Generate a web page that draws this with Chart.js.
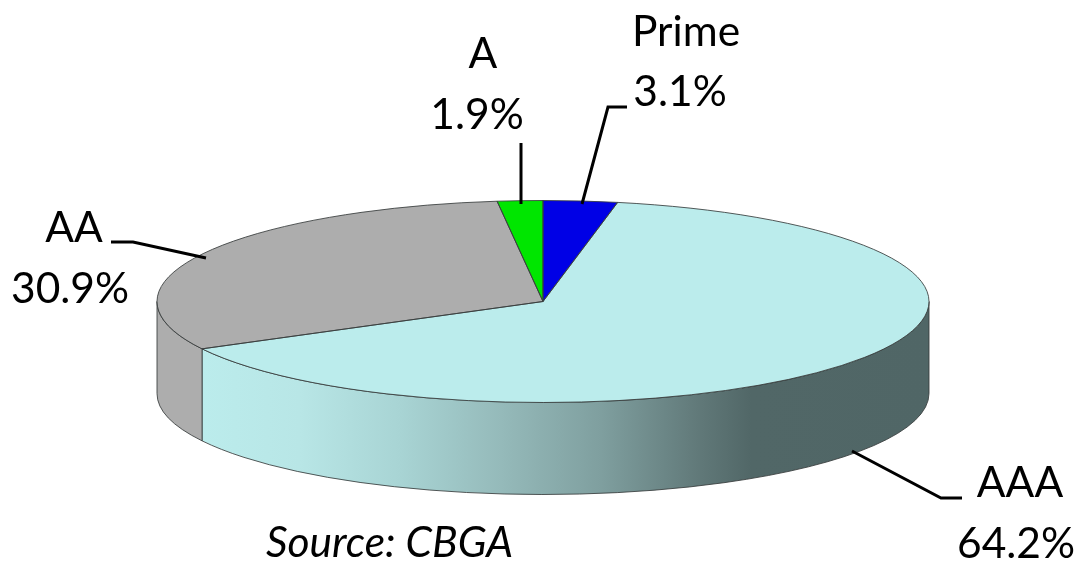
<!DOCTYPE html>
<html>
<head>
<meta charset="utf-8">
<style>
html, body { margin: 0; padding: 0; background: #fff; overflow: hidden; }
canvas { display: block; }
</style>
<script src="https://cdn.jsdelivr.net/npm/chart.js@4/dist/chart.umd.js"></script>
</head>
<body>
<canvas id="pie-host" width="1081" height="562"></canvas>
<script>
// Slices run clockwise from 12 o'clock
var categories = ['Prime', 'AAA', 'AA', 'A'];
var shares = [3.1, 64.2, 30.9, 1.9];
var sourceNote = 'Source: CBGA';

var sliceColors = ['#0000e6', '#bbecec', '#adadad', '#00e600'];

// The flattened disc
var disc = { x: 543, y: 301.5, rx: 386, ry: 101, depth: 92 };
var outline = 'rgba(55, 60, 60, 0.85)';
var textFont = '42.5px Lato';

// Label placement, same order as categories
var labelSpots = [
    { x: 686, nameY: 46, shareX: 680, shareY: 106 },
    { x: 1020, nameY: 497, shareX: 1016, shareY: 558 },
    { x: 74, nameY: 242, shareX: 70, shareY: 303 },
    { x: 483, nameY: 68, shareX: 477, shareY: 129 }
];
var leaders = [
    [[582, 204], [608, 107], [627, 107]],
    [[852, 451], [941, 498], [962, 498]],
    [[206, 258], [133, 242], [111, 242]],
    [[521, 204], [521, 143]]
];

function wallFill(ctx, index) {
    var g = ctx.createLinearGradient(disc.x - disc.rx, 0, disc.x + disc.rx, 0);
    if (index === 1) {
        g.addColorStop(0.06, '#bbecec');
        g.addColorStop(0.185, '#b8e6e6');
        g.addColorStop(0.315, '#a8d4d4');
        g.addColorStop(0.445, '#95baba');
        g.addColorStop(0.575, '#7f9f9f');
        g.addColorStop(0.705, '#607878');
        g.addColorStop(0.77, '#516767');
        g.addColorStop(1, '#506666');
    } else {
        g.addColorStop(0, sliceColors[index]);
        g.addColorStop(1, sliceColors[index]);
    }
    return g;
}

var discPlugin = {
    id: 'disc',
    beforeDatasetsDraw: function (chart) {
        var ctx = chart.ctx;
        var arcs = chart.getDatasetMeta(0).data;

        // side wall, only the front half of the disc shows it
        arcs.forEach(function (arc, i) {
            var from = Math.max(arc.startAngle, 0);
            var to = Math.min(arc.endAngle, Math.PI);
            if (to <= from) return;
            ctx.save();
            ctx.beginPath();
            ctx.ellipse(disc.x, disc.y, disc.rx, disc.ry, 0, from, to);
            ctx.ellipse(disc.x, disc.y + disc.depth, disc.rx, disc.ry, 0, to, from, true);
            ctx.closePath();
            ctx.fillStyle = wallFill(ctx, i);
            ctx.fill();
            ctx.strokeStyle = outline;
            ctx.lineWidth = 1;
            ctx.stroke();
            ctx.restore();
        });

        // squash the round pie into the top of the disc
        var first = arcs[0];
        ctx.save();
        ctx.translate(disc.x, disc.y);
        ctx.scale(disc.rx / first.outerRadius, disc.ry / first.outerRadius);
        ctx.translate(-first.x, -first.y);
    },
    afterDatasetsDraw: function (chart) {
        var ctx = chart.ctx;
        ctx.restore();

        // thin edge round each slice of the top
        chart.getDatasetMeta(0).data.forEach(function (arc) {
            ctx.beginPath();
            ctx.moveTo(disc.x, disc.y);
            ctx.ellipse(disc.x, disc.y, disc.rx, disc.ry, 0, arc.startAngle, arc.endAngle);
            ctx.closePath();
            ctx.strokeStyle = outline;
            ctx.lineWidth = 1;
            ctx.stroke();
        });

        // leader lines
        ctx.strokeStyle = '#000';
        ctx.lineWidth = 3;
        for (var line of leaders) {
            ctx.beginPath();
            line.forEach(function (p, i) {
                if (i === 0) ctx.moveTo(p[0], p[1]);
                else ctx.lineTo(p[0], p[1]);
            });
            ctx.stroke();
        }

        // labels
        ctx.fillStyle = '#000';
        ctx.textBaseline = 'alphabetic';
        ctx.textAlign = 'center';
        ctx.font = textFont;
        categories.forEach(function (name, i) {
            var spot = labelSpots[i];
            ctx.fillText(name, spot.x, spot.nameY);
            ctx.fillText(shares[i].toFixed(1) + '%', spot.shareX, spot.shareY);
        });

        ctx.font = 'italic ' + textFont;
        ctx.textAlign = 'left';
        ctx.fillText(sourceNote, 266, 557);
    }
};

new Chart(document.getElementById('pie-host'), {
    type: 'pie',
    data: {
        labels: categories,
        datasets: [{
            data: shares,
            backgroundColor: sliceColors,
            borderWidth: 0,
            clip: false
        }]
    },
    options: {
        responsive: false,
        animation: false,
        events: [],
        plugins: {
            legend: { display: false },
            tooltip: { enabled: false }
        }
    },
    plugins: [discPlugin]
});
</script>
</body>
</html>
